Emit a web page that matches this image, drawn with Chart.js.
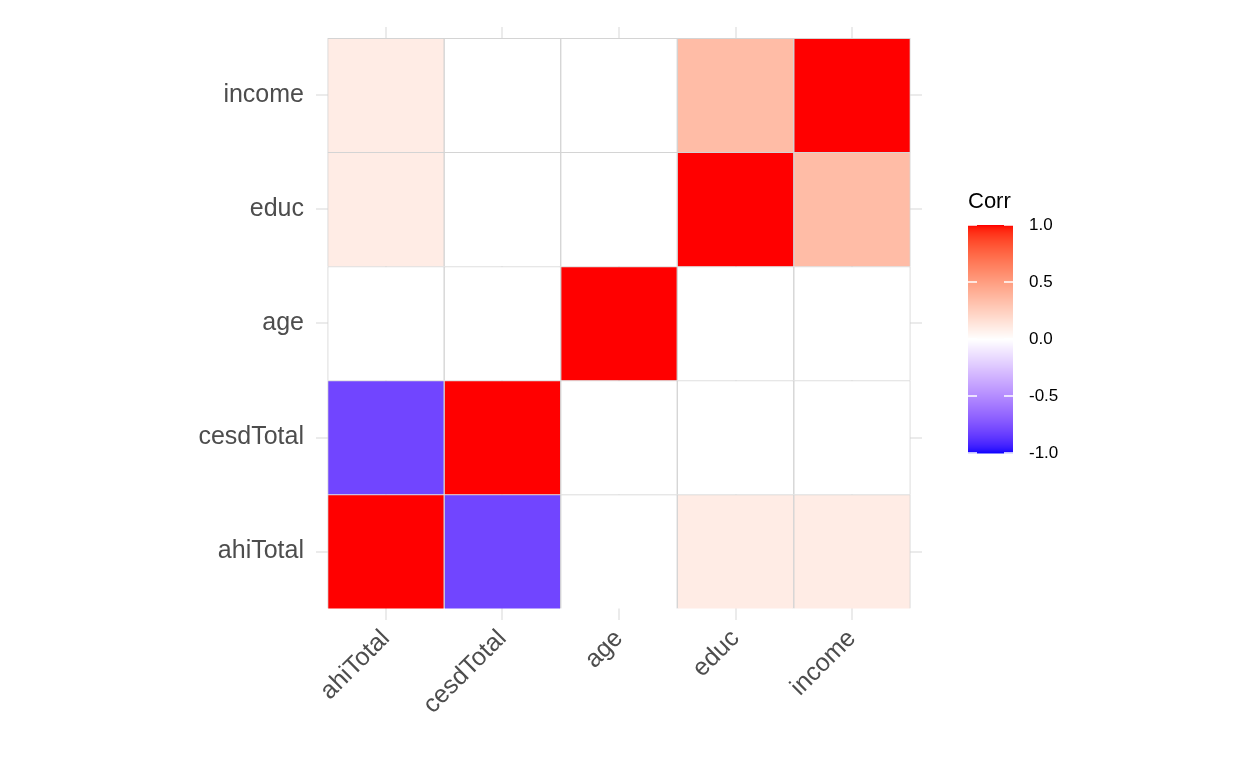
<!DOCTYPE html>
<html><head><meta charset="utf-8">
<script src="https://cdn.jsdelivr.net/npm/chart.js@4"></script>
<style>html,body{margin:0;background:#fff}#wrap{width:1248px;height:768px}</style>
</head><body><div id="wrap"><canvas id="c"></canvas></div>
<script>
const VARS = ["ahiTotal", "cesdTotal", "age", "educ", "income"];
// rows bottom->top (y var), columns left->right (x var)
const CORR = [
  [1, -0.8, 0, 0.1, 0.1],
  [-0.8, 1, 0, 0, 0],
  [0, 0, 1, 0, 0],
  [0.1, 0, 0, 1, 0.35],
  [0.1, 0, 0, 0.35, 1],
];
const LEGEND_TICKS = [1.0, 0.5, 0.0, -0.5, -1.0];

const RED = [53.24, 80.09, 67.20], WHITE = [100, 0, 0], BLUE = [32.30, 79.19, -107.86];
function lab2rgb([L, a, b]) {
  const fy = (L + 16) / 116, fx = fy + a / 500, fz = fy - b / 200;
  const inv = t => t > 6 / 29 ? t * t * t : 3 * (6 / 29) ** 2 * (t - 4 / 29);
  const X = 0.95047 * inv(fx), Y = inv(fy), Z = 1.08883 * inv(fz);
  const lin = [3.2406 * X - 1.5372 * Y - 0.4986 * Z, -0.9689 * X + 1.8758 * Y + 0.0415 * Z, 0.0557 * X - 0.2040 * Y + 1.0570 * Z];
  const g = c => c <= 0.0031308 ? 12.92 * c : 1.055 * Math.pow(c, 1 / 2.4) - 0.055;
  return "rgb(" + lin.map(c => Math.round(255 * Math.min(1, Math.max(0, g(c))))).join(",") + ")";
}
function colorFor(v) {
  const end = v >= 0 ? RED : BLUE, t = Math.abs(v);
  return lab2rgb(WHITE.map((w, i) => w + (end[i] - w) * t));
}

const datasets = CORR.map((row, i) => ({
  label: VARS[i],
  data: row.map((v, j) => ({ x: j + 0.5, y: 1 })),
  backgroundColor: row.map(colorFor),
  borderColor: "#d4d4d4", borderWidth: 1,
  barPercentage: 1, categoryPercentage: 1,
}));

const centers = VARS.map((_, i) => ({ value: i + 0.5 }));
const tickFont = { family: "Liberation Sans, Arial, sans-serif", size: 25 };

const legendPlugin = {
  id: "corrLegend",
  afterDraw(chart) {
    const ctx = chart.ctx, x = 968, w = 45, top = 225, bot = 453;
    ctx.save();
    ctx.fillStyle = "#000"; ctx.font = "22px Liberation Sans, Arial, sans-serif";
    ctx.textBaseline = "alphabetic"; ctx.fillText("Corr", 968, 208);
    for (let y = top; y < bot; y++) {
      const v = 1 - 2 * (y - top) / (bot - top);
      ctx.fillStyle = colorFor(v); ctx.fillRect(x, y, w, 1.5);
    }
    ctx.font = "17px Liberation Sans, Arial, sans-serif"; ctx.textBaseline = "middle";
    LEGEND_TICKS.forEach(v => {
      const y = top + (1 - v) / 2 * (bot - top);
      ctx.strokeStyle = "#fff"; ctx.lineWidth = 1.5;
      ctx.beginPath(); ctx.moveTo(x, y); ctx.lineTo(x + 9, y); ctx.moveTo(x + w - 9, y); ctx.lineTo(x + w, y); ctx.stroke();
      ctx.fillStyle = "#000"; ctx.fillText(v.toFixed(1), 1029, y);
    });
    ctx.restore();
  }
};

new Chart(document.getElementById("c"), {
  type: "bar",
  data: { datasets },
  plugins: [legendPlugin],
  options: {
    responsive: true, maintainAspectRatio: false, animation: false,
    layout: { padding: { top: 15, right: 326, left: 0, bottom: 0 } },
    plugins: { legend: { display: false }, tooltip: { enabled: false } },
    scales: {
      x: {
        type: "linear", stacked: true, min: -0.1, max: 5.1, offset: false,
        afterBuildTicks: s => { s.ticks = centers.map(t => ({ ...t })); },
        afterFit: s => { s.height = 148; },
        ticks: { callback: v => VARS[Math.round(v - 0.5)], font: tickFont, color: "#4d4d4d", maxRotation: 45, minRotation: 45, padding: 4 },
        grid: { color: "#ebebeb", lineWidth: 2, tickLength: 0, offset: false }, border: { display: false },
      },
      y: {
        type: "linear", stacked: true, min: -0.1, max: 5.1,
        afterBuildTicks: s => { s.ticks = centers.map(t => ({ ...t })); },
        afterFit: s => { s.width = 316; },
        ticks: { callback: v => VARS[Math.round(v - 0.5)], font: tickFont, color: "#4d4d4d", padding: 12 },
        grid: { color: "#ebebeb", lineWidth: 2, tickLength: 0 }, border: { display: false },
      },
    },
  },
});
</script></body></html>
